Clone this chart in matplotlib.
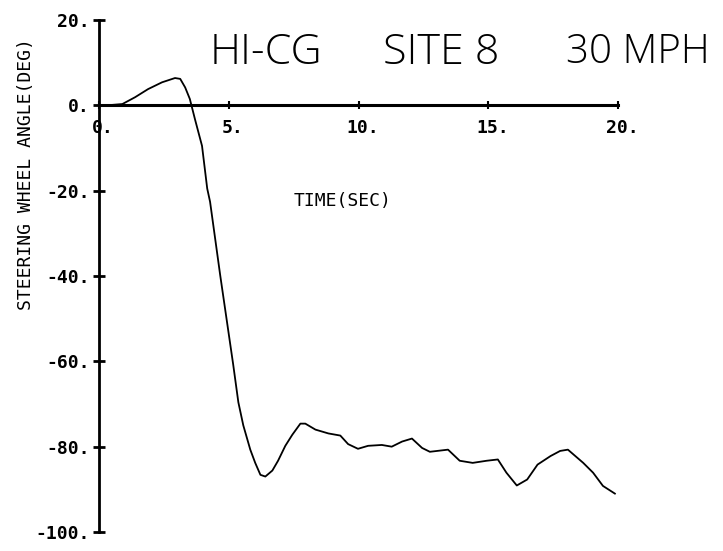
import numpy as np
import matplotlib.pyplot as plt
from matplotlib.transforms import ScaledTranslation

time_s = [0.0, 0.5, 0.9, 1.39, 1.89, 2.43, 2.93, 3.13, 3.32, 3.5, 3.7, 3.97, 4.17, 4.28, 4.67,
          5.17, 5.37, 5.56, 5.83, 6.02, 6.22, 6.41, 6.68, 6.9, 7.18, 7.45, 7.76, 7.95,
          8.34, 8.84, 9.3, 9.6, 9.98, 10.37, 10.9, 11.28, 11.68, 12.06, 12.45,
          12.75, 13.45, 13.9, 14.4, 14.94, 15.37, 15.7, 16.1, 16.5, 16.9, 17.4,
          17.77, 18.07, 18.66, 19.04, 19.42, 19.88]
angle_deg = [0.0, 0.1, 0.3, 1.9, 3.8, 5.4, 6.4, 6.2, 4.2, 1.5, -3.3, -9.5, -19.5, -22.6, -39.8,
             -60.7, -69.6, -75.0, -80.7, -83.8, -86.6, -87.0, -85.6, -83.3, -79.8, -77.2, -74.6, -74.6,
             -76.0, -76.9, -77.4, -79.4, -80.5, -79.8, -79.6, -80.0, -78.8, -78.1, -80.3,
             -81.2, -80.7, -83.3, -83.8, -83.3, -83.0, -86.1, -89.1, -87.7, -84.2, -82.2,
             -81.0, -80.7, -83.8, -86.1, -89.2, -91.0]

x_ticks = [0, 5, 10, 15, 20]
x_labels = ["0.", "5.", "10.", "15.", "20."]
y_ticks = [20, 0, -20, -40, -60, -80, -100]
y_labels = ["20.", "0.", "-20.", "-40.", "-60.", "-80.", "-100."]
title_parts = ["HI-CG", "SITE 8", "30 MPH"]

mono = "DejaVu Sans Mono"

fig = plt.figure(figsize=(7.23, 5.51), dpi=100)
ax = fig.add_axes([99 / 723, 1 - 532 / 551, 519 / 723, 512 / 551])

ax.plot(time_s, angle_deg, color="black", lw=1.3)

ax.set_xlim(0, 20)
ax.set_ylim(-100, 20)

for s in ["top", "right"]:
    ax.spines[s].set_visible(False)
ax.spines["left"].set_linewidth(2)
ax.spines["bottom"].set_linewidth(2.2)
ax.spines["bottom"].set_position(("data", 0))

ax.set_yticks(y_ticks)
ax.set_yticklabels(y_labels, fontfamily=mono, fontsize=13, fontweight="bold")
ax.tick_params(axis="y", direction="inout", length=9, width=2, pad=2)

ax.set_xticks(x_ticks)
ax.set_xticklabels(x_labels, fontfamily=mono, fontsize=13, fontweight="bold")
ax.tick_params(axis="x", direction="inout", length=6, width=1.5, pad=7)
shift = ScaledTranslation(4 / 100, 0, fig.dpi_scale_trans)
for lab in ax.get_xticklabels():
    lab.set_transform(lab.get_transform() + shift)

ax.set_ylabel("STEERING WHEEL ANGLE(DEG)", fontfamily=mono, fontsize=13)
ax.yaxis.set_label_coords(-0.124, 0.7)

ax.text(7.5, -22.5, "TIME(SEC)", fontfamily=mono, fontsize=13, ha="left", va="center")

# handwritten title, three groups
for part, xpix, fs in zip(title_parts, [210, 383, 566], [31, 31, 29]):
    fig.text(xpix / 723, 1 - 53 / 551, part, fontfamily="Open Sans", fontweight="light",
             fontsize=fs, ha="left", va="center")

fig.savefig("out.png", dpi=100, facecolor="white")
